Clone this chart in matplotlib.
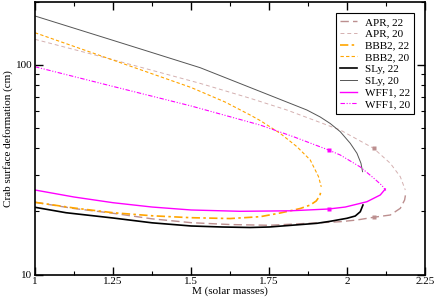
import matplotlib
matplotlib.use("Agg")
import matplotlib.pyplot as plt
from matplotlib.ticker import FixedLocator, NullFormatter, FixedFormatter

plt.rcParams['font.family'] = ['Liberation Serif', 'DejaVu Serif']

# ---- data (M in solar masses, deformation in cm) ----
apr22_m = [1.0, 1.125, 1.25, 1.375, 1.5, 1.625, 1.75, 1.9776, 2.0311, 2.0843, 2.1378, 2.1699, 2.1837, 2.1875]
apr22_v = [22.12, 20.66, 19.61, 18.45, 17.69, 17.33, 17.19, 17.88, 18.22, 18.77, 19.24, 20.71, 22.69, 24.49]
apr20_m = [1.0, 1.25, 1.5288, 1.6891, 1.8067, 1.9776, 2.0843, 2.1378, 2.1699, 2.1859]
apr20_v = [132.1, 105.6, 81.5, 69.2, 60.85, 48.87, 39.99, 33.93, 29.28, 25.31]

bbb22_m = [1.0, 1.125, 1.25, 1.375, 1.5, 1.625, 1.7212, 1.7853, 1.8494, 1.8814, 1.9006, 1.9119, 1.9167]
bbb22_v = [22.12, 20.78, 19.73, 19.08, 18.68, 18.51, 18.89, 19.67, 20.66, 21.47, 22.44, 23.71, 25.31]
bbb20_m = [1.0, 1.25, 1.5, 1.609, 1.6891, 1.7212, 1.7853, 1.8388, 1.8814, 1.9080, 1.9167]
bbb20_v = [142.0, 105.2, 77.9, 66.4, 57.6, 54.2, 47.1, 40.7, 35.2, 29.3, 26.2]

sly22_m = [1.0, 1.0994, 1.25, 1.375, 1.5, 1.5994, 1.6891, 1.75, 1.9029, 1.9455, 1.9990, 2.0256, 2.0417, 2.0503]
sly22_v = [20.94, 19.73, 18.62, 17.66, 17.06, 16.87, 16.78, 16.87, 17.57, 17.96, 18.56, 19.03, 19.95, 21.47]
sly20_m = [1.0, 1.25, 1.3686, 1.5288, 1.75, 1.8708, 1.9135, 1.9455, 1.9776, 2.0096, 2.0311, 2.0439, 2.0490]
sly20_v = [170.6, 130.6, 115.0, 96.8, 71.7, 60.85, 56.36, 52.48, 47.97, 42.24, 37.85, 33.93, 30.94]

wff22_m = [1.0, 1.125, 1.25, 1.375, 1.5, 1.657, 1.8173, 1.9401, 1.9936, 2.0631, 2.1058, 2.1218]
wff22_v = [25.31, 23.44, 22.02, 21.0, 20.33, 20.04, 20.15, 20.55, 21.0, 22.26, 23.97, 25.59]
wff20_m = [1.0, 1.25, 1.5, 1.7212, 1.8279, 1.9401, 1.9776, 2.0417, 2.0843, 2.1112, 2.1234]
wff20_v = [97.8, 78.8, 63.6, 51.6, 45.4, 39.25, 37.15, 32.58, 28.87, 26.6, 25.18]

# marked points
apr_mark_m = [2.0843, 2.0843]
apr_mark_v = [39.99, 18.77]
wff_mark_m = [1.9401, 1.9401]
wff_mark_v = [39.25, 20.55]

x_ticks = [1, 1.25, 1.5, 1.75, 2, 2.25]
x_tick_labels = ["1", "1.25", "1.5", "1.75", "2", "2.25"]
y_ticks = [10, 100]
y_tick_labels = ["10", "100"]

APR_C = '#bc8f8f'
BBB_C = '#ffa500'
WFF_C = '#ff00ff'

fig = plt.figure(figsize=(4.36, 3.01), dpi=100)
ax = fig.add_axes([0.0803, 0.0874, 0.8952, 0.9076])

ax.plot(apr22_m, apr22_v, color=APR_C, lw=1.0, dashes=(6, 3), label='APR, 22')
ax.plot(apr20_m, apr20_v, color='#d4b0b0', lw=0.7, dashes=(4, 3), label='APR, 20')
ax.plot(bbb22_m, bbb22_v, color=BBB_C, lw=1.2, dashes=(5, 2, 1.5, 2), label='BBB2, 22')
ax.plot(bbb20_m, bbb20_v, color=BBB_C, lw=0.8, dashes=(3, 2), label='BBB2, 20')
ax.plot(sly22_m, sly22_v, color='black', lw=1.2, label='SLy, 22')
ax.plot(sly20_m, sly20_v, color='#555555', lw=0.7, label='SLy, 20')
ax.plot(wff22_m, wff22_v, color=WFF_C, lw=1.0, label='WFF1, 22')
ax.plot(wff20_m, wff20_v, color=WFF_C, lw=0.8, dashes=(4, 1.5, 1, 1.5, 1, 1.5), label='WFF1, 20')

ax.plot(apr_mark_m, apr_mark_v, ls='none', marker='s', ms=2.2, color=APR_C, mec='none')
ax.plot(wff_mark_m, wff_mark_v, ls='none', marker='s', ms=2.2, color=WFF_C, mec='none')

ax.set_yscale('log')
ax.set_xlim(1, 2.25)
ax.set_ylim(10, 200)

ax.xaxis.set_major_locator(FixedLocator(x_ticks))
ax.xaxis.set_major_formatter(FixedFormatter(x_tick_labels))
ax.xaxis.set_minor_locator(FixedLocator([1.125, 1.375, 1.625, 1.875, 2.125]))
ax.yaxis.set_major_locator(FixedLocator(y_ticks))
ax.yaxis.set_major_formatter(FixedFormatter(y_tick_labels))
ax.yaxis.set_minor_locator(FixedLocator([20, 30, 40, 50, 60, 70, 80, 90, 200]))
ax.yaxis.set_minor_formatter(NullFormatter())

ax.tick_params(which='both', direction='in', top=True, right=True, labelsize=8, pad=2)
ax.tick_params(which='major', length=6, width=1)
ax.tick_params(which='minor', length=3, width=0.8)
for s in ax.spines.values():
    s.set_linewidth(1.2)

ax.set_xlabel('M (solar masses)', fontsize=8, labelpad=0)
ax.set_ylabel('Crab surface deformation (cm)', fontsize=8, labelpad=2)

leg = ax.legend(loc='upper right', bbox_to_anchor=(0.972, 0.959), fontsize=8,
                frameon=True, fancybox=False, edgecolor='black', framealpha=1,
                handlelength=1.5, handletextpad=0.7, labelspacing=0.18,
                borderpad=0.4, borderaxespad=0)
leg.get_frame().set_linewidth(0.8)

fig.savefig('out.png', dpi=100)
